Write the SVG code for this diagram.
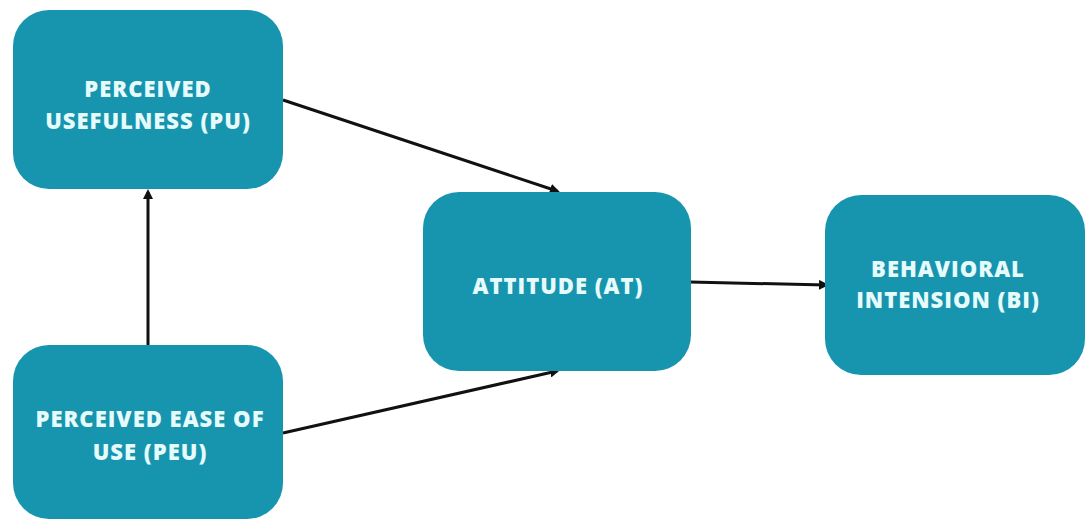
<svg xmlns="http://www.w3.org/2000/svg" width="1086" height="520" viewBox="0 0 1086 520">
<defs>
<style>
.box{fill:#1795AF;}
.lbl{font-family:"Open Sans","Liberation Sans",sans-serif;font-weight:800;font-size:22px;letter-spacing:1px;fill:#E6FBFC;text-anchor:middle;}
.edge{stroke:#111;stroke-width:3;fill:none;marker-end:url(#arr);}
</style>
<marker id="arr" markerWidth="10" markerHeight="10" refX="7" refY="5" orient="auto" markerUnits="userSpaceOnUse">
<path d="M0,0 L10,5 L0,10 Z" fill="#111"/>
</marker>
</defs>
<rect width="1086" height="520" fill="#fff"/>
<g id="connectors">
<line class="edge" x1="283" y1="100" x2="557" y2="191"/>
<line class="edge" x1="283" y1="433" x2="557" y2="371"/>
<line class="edge" x1="148" y1="345" x2="148" y2="192"/>
<line class="edge" x1="690" y1="282" x2="826" y2="285"/>
</g>
<g id="pu">
<rect class="box" x="13" y="10" width="270" height="179" rx="36"/>
<text class="lbl" x="148" y="97">PERCEIVED</text>
<text class="lbl" x="148" y="129">USEFULNESS (PU)</text>
</g>
<g id="peu">
<rect class="box" x="13" y="345" width="270" height="174" rx="36"/>
<text class="lbl" x="150" y="427">PERCEIVED EASE OF</text>
<text class="lbl" x="150" y="460">USE (PEU)</text>
</g>
<g id="at">
<rect class="box" x="423" y="192" width="268" height="179" rx="36"/>
<text class="lbl" x="558" y="294">ATTITUDE (AT)</text>
</g>
<g id="bi">
<rect class="box" x="825" y="195" width="260" height="180" rx="36"/>
<text class="lbl" x="948" y="277">BEHAVIORAL</text>
<text class="lbl" x="948" y="308">INTENSION (BI)</text>
</g>
</svg>
